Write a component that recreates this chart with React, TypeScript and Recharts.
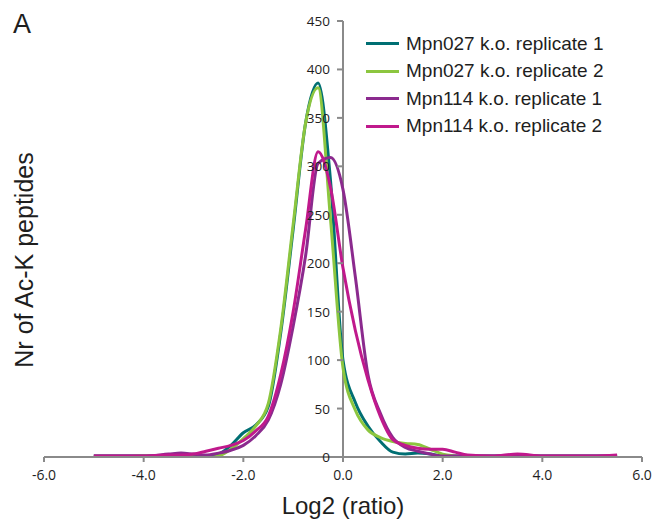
import {
    LineChart,
    Line,
    XAxis,
    YAxis,
    ReferenceLine,
    ReferenceDot,
    Legend,
} from "recharts";

// log2 ratio bins
const LOG2_RATIO = [
    -5, -4.5, -4, -3.5, -3.25, -3, -2.75, -2.5, -2.25, -2, -1.75, -1.5, -1.25,
    -1, -0.75, -0.5, -0.25, 0, 0.25, 0.5, 0.75, 1, 1.25, 1.5, 1.75, 2, 2.25,
    2.5, 3, 3.5, 4, 4.5, 5, 5.5,
];

const MPN027_REP1 = [
    1, 1, 1, 1, 1, 1, 1, 3, 12, 25, 33, 52, 128, 235, 345, 386, 285, 100, 56,
    32, 16, 5, 3, 4, 3, 1, 1, 1, 1, 1, 1, 1, 1, 1,
];
const MPN027_REP2 = [
    0, 0, 1, 1, 1, 0, -1, 1, 8, 19, 32, 55, 132, 240, 345, 381, 245, 92, 48,
    28, 20, 16, 14, 13, 8, 3, 1, 0, 0, 1, 0, 0, 0, 0,
];
const MPN114_REP1 = [
    1, 1, 1, 3, 4, 3, 2, 4, 7, 12, 22, 38, 75, 135, 208, 303, 309, 276, 185,
    85, 45, 20, 10, 6, 3, 1, 1, 1, 1, 2, 1, 1, 1, 1,
];
const MPN114_REP2 = [
    1, 1, 1, 2, 2, 3, 6, 9, 12, 17, 27, 42, 85, 150, 235, 315, 278, 195, 130,
    80, 42, 18, 12, 9, 8, 8, 5, 2, 1, 3, 1, 1, 1, 2,
];

const X_TICKS = [-6, -4, -2, 0, 2, 4, 6];
const Y_TICKS = [0, 50, 100, 150, 200, 250, 300, 350, 400, 450];

const SERIES = [
    { key: "rep027a", name: "Mpn027 k.o. replicate 1", color: "#006f73" },
    { key: "rep027b", name: "Mpn027 k.o. replicate 2", color: "#8cc63f" },
    { key: "rep114a", name: "Mpn114 k.o. replicate 1", color: "#8b2a8e" },
    { key: "rep114b", name: "Mpn114 k.o. replicate 2", color: "#c0198c" },
];

const data = LOG2_RATIO.map((x, i) => ({
    x,
    rep027a: MPN027_REP1[i],
    rep027b: MPN027_REP2[i],
    rep114a: MPN114_REP1[i],
    rep114b: MPN114_REP2[i],
}));

const AXIS_GRAY = "#8a8a8a";
const TEXT = "#1e1e1e";
const SANS = "'Liberation Sans', Arial, sans-serif";
const TICK_FONT = "'Open Sans', sans-serif";

// y axis sits at x = 0, so ticks are drawn by hand
const YTick = (props: any) => {
    const { cx, cy, value } = props;
    return (
        <g>
            <line
                x1={cx - 6}
                x2={cx}
                y1={cy}
                y2={cy}
                stroke={AXIS_GRAY}
                strokeWidth={2}
            />
            <text
                x={cx - 13}
                y={cy}
                textAnchor="end"
                dominantBaseline="central"
                fontSize={13.5}
                fontFamily={TICK_FONT}
                fill={TEXT}
            >
                {value}
            </text>
        </g>
    );
};

const renderLegend = () => (
    <div style={{ fontFamily: SANS, fontSize: 19, color: TEXT }}>
        {SERIES.map((s) => (
            <div
                key={s.key}
                style={{ display: "flex", alignItems: "center", height: 27.5 }}
            >
                <span
                    style={{
                        display: "inline-block",
                        width: 33,
                        height: 3,
                        background: s.color,
                        marginRight: 7,
                    }}
                />
                <span>{s.name}</span>
            </div>
        ))}
    </div>
);

export default function App() {
    return (
        <div style={{ position: "relative", width: 653, height: 528 }}>
            <style>{`body{margin:0}`}</style>
            <LineChart
                width={653}
                height={528}
                data={data}
                margin={{ top: 21, right: 11, left: 44, bottom: 41 }}
            >
                <XAxis
                    dataKey="x"
                    type="number"
                    domain={[-6, 6]}
                    ticks={X_TICKS}
                    allowDataOverflow
                    tickFormatter={(v: number) => v.toFixed(1)}
                    height={30}
                    axisLine={{ stroke: AXIS_GRAY, strokeWidth: 2 }}
                    tickLine={{ stroke: AXIS_GRAY, strokeWidth: 2 }}
                    tickSize={5}
                    tickMargin={8}
                    tick={{ fontSize: 14, fontFamily: TICK_FONT, fill: TEXT }}
                />
                <YAxis hide type="number" domain={[0, 450]} allowDataOverflow />
                <ReferenceLine x={0} stroke={AXIS_GRAY} strokeWidth={2} />
                {Y_TICKS.map((v) => (
                    <ReferenceDot
                        key={v}
                        x={0}
                        y={v}
                        r={0}
                        ifOverflow="visible"
                        shape={(p: any) => <YTick {...p} value={v} />}
                    />
                ))}
                {SERIES.map((s) => (
                    <Line
                        key={s.key}
                        dataKey={s.key}
                        name={s.name}
                        type="monotone"
                        stroke={s.color}
                        strokeWidth={3}
                        dot={false}
                        isAnimationActive={false}
                    />
                ))}
                <Legend
                    layout="vertical"
                    align="center"
                    verticalAlign="middle"
                    content={renderLegend}
                    wrapperStyle={{ top: 30, left: 366, width: 270 }}
                />
            </LineChart>
            <div
                style={{
                    position: "absolute",
                    left: 13,
                    top: 9,
                    fontFamily: SANS,
                    fontSize: 27,
                    color: TEXT,
                }}
            >
                A
            </div>
            <div
                style={{
                    position: "absolute",
                    left: 24,
                    top: 260,
                    transform: "translate(-50%, -50%) rotate(-90deg)",
                    whiteSpace: "nowrap",
                    fontFamily: SANS,
                    fontSize: 25,
                    color: TEXT,
                }}
            >
                Nr of Ac-K peptides
            </div>
            <div
                style={{
                    position: "absolute",
                    left: 343,
                    top: 506,
                    transform: "translate(-50%, -50%)",
                    whiteSpace: "nowrap",
                    fontFamily: SANS,
                    fontSize: 24,
                    color: TEXT,
                }}
            >
                Log2 (ratio)
            </div>
        </div>
    );
}
